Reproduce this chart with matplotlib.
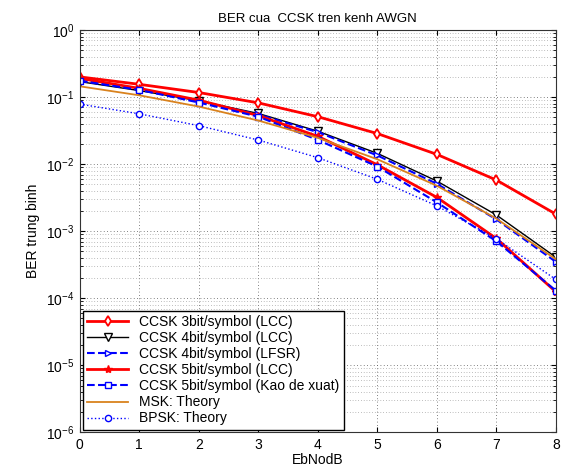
import numpy as np
import matplotlib
matplotlib.use('Agg')
from matplotlib import pyplot as plt
from matplotlib.ticker import NullFormatter

plt.rcParams['font.family'] = ['Liberation Sans', 'DejaVu Sans']
plt.rcParams['font.size'] = 10

ebno = [0, 1, 2, 3, 4, 5, 6, 7, 8]
ccsk3_lcc = [0.20, 0.155, 0.117, 0.082, 0.051, 0.0286, 0.014, 0.0058, 0.0018]
ccsk4_lcc = [0.17, 0.125, 0.088, 0.057, 0.031, 0.0145, 0.0056, 0.00175, 0.00041]
ccsk4_lfsr = [0.175, 0.13, 0.087, 0.055, 0.030, 0.0135, 0.0051, 0.0015, 0.00035]
ccsk5_lcc = [0.19, 0.135, 0.09, 0.053, 0.026, 0.0098, 0.0032, 0.00078, 0.000125]
ccsk5_kao = [0.175, 0.128, 0.083, 0.051, 0.023, 0.0092, 0.0027, 0.00071, 0.00013]
msk_theory = [0.1448, 0.1063, 0.0722, 0.0447, 0.0247, 0.01183, 0.00477, 0.001545, 0.000382]
bpsk_theory = [0.0786, 0.0563, 0.0375, 0.0229, 0.0125, 0.00595, 0.00239, 0.000773, 0.000191]

fig = plt.figure(figsize=(5.82, 4.69), dpi=100)
ax = fig.add_axes([0.137, 0.078, 0.818, 0.858])

ax.semilogy(ebno, ccsk3_lcc, 'r-d', lw=2, ms=5, mfc='white', mec='r', mew=1.3, label='CCSK 3bit/symbol (LCC)')
ax.semilogy(ebno, ccsk4_lcc, 'k-v', lw=1, ms=6, mfc='white', label='CCSK 4bit/symbol (LCC)')
ax.semilogy(ebno, ccsk4_lfsr, 'b-->', lw=1.5, ms=5, mfc='white', label='CCSK 4bit/symbol (LFSR)')
ax.semilogy(ebno, ccsk5_lcc, 'r-*', lw=2, ms=6, label='CCSK 5bit/symbol (LCC)')
ax.semilogy(ebno, ccsk5_kao, 'b--s', lw=1.5, ms=5, mfc='white', label='CCSK 5bit/symbol (Kao de xuat)')
ax.semilogy(ebno, msk_theory, '-', color='#d9821e', lw=1.3, label='MSK: Theory')
ax.semilogy(ebno, bpsk_theory, 'b:o', lw=1, ms=4.5, mfc='white', label='BPSK: Theory')

ax.set_xlim(0, 8)
ax.set_ylim(1e-6, 1)
ax.set_xticks(range(9))
ax.yaxis.set_minor_formatter(NullFormatter())
ax.grid(True, which='major', color='0.35', lw=0.6, dashes=(1, 3))
ax.grid(True, which='minor', axis='y', color='0.5', lw=0.5, dashes=(1, 3))
ax.tick_params(direction='in', which='both', top=True, right=True, pad=4)
for s in ax.spines.values():
    s.set_color('#333333')

ax.set_title('BER cua  CCSK tren kenh AWGN', fontsize=9.5)
ax.set_xlabel('EbNodB', labelpad=1)
ax.set_ylabel('BER trung binh')

leg = ax.legend(loc='lower left', fancybox=False, framealpha=1, edgecolor='k',
                borderaxespad=0.2, handlelength=3, labelspacing=0.15, borderpad=0.3,
                fontsize=10)

fig.savefig('out.png', dpi=100)
